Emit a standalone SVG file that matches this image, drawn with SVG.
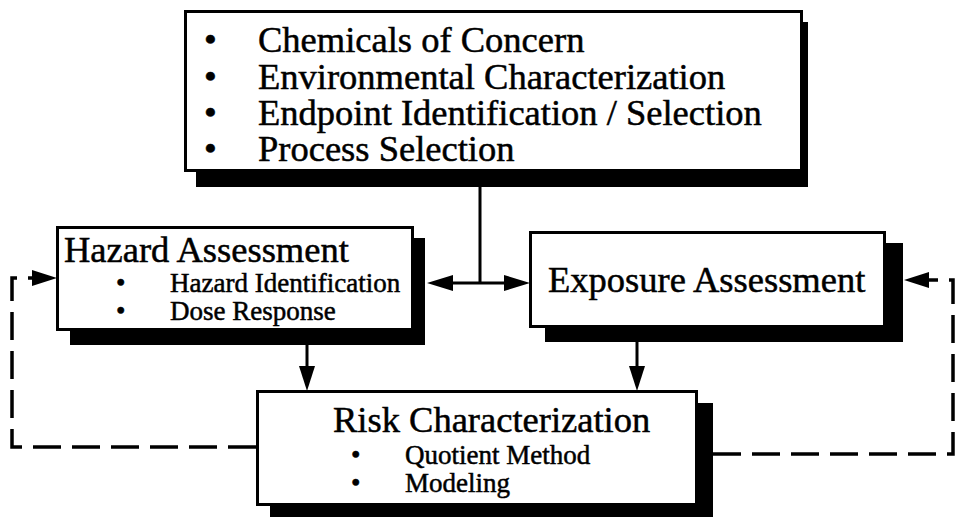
<svg xmlns="http://www.w3.org/2000/svg" width="959" height="517" viewBox="0 0 959 517">
  <style>
    .box { fill: #fff; stroke: #000; stroke-width: 3; }
    .shadow { fill: #000; }
    .t { font-family: "Liberation Serif", "Times New Roman", serif; fill: #000; stroke: #000; stroke-width: 0.5; }
    .title { font-size: 36.5px; }
    .big { font-size: 36.5px; }
    .small { font-size: 27px; }
    .line { fill: none; stroke: #000; stroke-width: 3; }
    .dash { fill: none; stroke: #000; stroke-width: 3.5; stroke-dasharray: 28 11; }
    .head { fill: #000; }
  </style>

  <rect width="959" height="517" fill="#fff"/>

  <!-- Scoping box -->
  <g id="scoping">
    <rect class="shadow" x="196" y="22" width="612" height="165"/>
    <rect class="box" x="185.5" y="11.5" width="616" height="159"/>
    <g class="t big">
      <text x="204" y="52">•</text>
      <text x="258" y="52">Chemicals of Concern</text>
      <text x="204" y="89">•</text>
      <text x="258" y="89">Environmental Characterization</text>
      <text x="204" y="125">•</text>
      <text x="258" y="125">Endpoint Identification / Selection</text>
      <text x="204" y="161">•</text>
      <text x="258" y="161">Process Selection</text>
    </g>
  </g>

  <!-- Hazard assessment -->
  <g id="hazard">
    <rect class="shadow" x="70" y="238" width="355" height="107"/>
    <rect class="box" x="57.5" y="227.5" width="355" height="102"/>
    <text class="t title" x="64" y="262">Hazard Assessment</text>
    <g class="t small">
      <text x="116" y="292">•</text>
      <text x="170" y="292">Hazard Identification</text>
      <text x="116" y="320">•</text>
      <text x="170" y="320">Dose Response</text>
    </g>
  </g>

  <!-- Exposure assessment -->
  <g id="exposure">
    <rect class="shadow" x="545" y="243" width="358" height="99"/>
    <rect class="box" x="530.5" y="232.5" width="354" height="94"/>
    <text class="t title" x="548" y="292">Exposure Assessment</text>
  </g>

  <!-- Risk characterization -->
  <g id="risk">
    <rect class="shadow" x="270" y="403" width="443" height="120"/>
    <rect class="box" x="257.5" y="391.5" width="439" height="113"/>
    <text class="t title" x="333" y="432">Risk Characterization</text>
    <g class="t small">
      <text x="351" y="464">•</text>
      <text x="405" y="464">Quotient Method</text>
      <text x="351" y="492">•</text>
      <text x="405" y="492">Modeling</text>
    </g>
  </g>

  <!-- Connectors -->
  <g id="connectors">
    <!-- scoping feeds both assessments -->
    <path class="line" d="M480 187 V283 M450 283 H507"/>
    <polygon class="head" points="427,283 453,275 453,291"/>
    <polygon class="head" points="530,283 504,275 504,291"/>

    <!-- assessments into risk characterization -->
    <path class="line" d="M307 345 V368"/>
    <polygon class="head" points="307,391 299,366 315,366"/>
    <path class="line" d="M637 342 V368"/>
    <polygon class="head" points="637,391 629,366 645,366"/>

    <!-- iterative feedback loops -->
    <path class="dash" d="M256 447 H12 V278 H36"/>
    <polygon class="head" points="57,278 32,270 32,286"/>
    <path class="dash" d="M713 454 H953 V280 H928"/>
    <polygon class="head" points="904,280 929,272 929,288"/>
  </g>
</svg>
